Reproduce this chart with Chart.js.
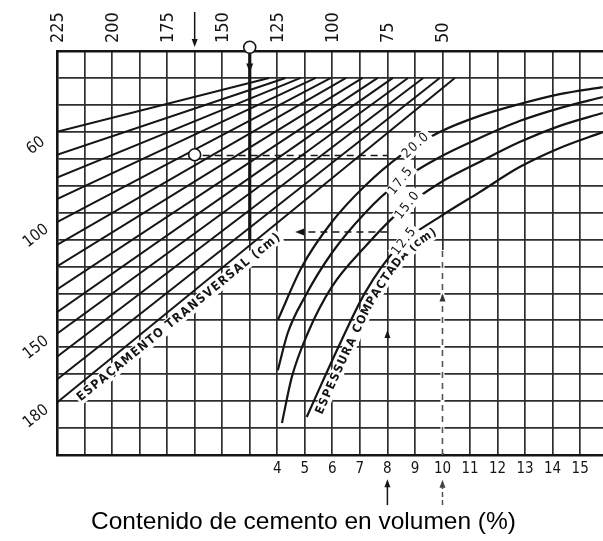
<!DOCTYPE html>
<html>
<head>
<meta charset="utf-8">
<script src="https://cdn.jsdelivr.net/npm/chart.js@4.4.1/dist/chart.umd.min.js"></script>
<style>
  html, body { margin: 0; padding: 0; background: #fff; }
  #wrap { width: 603px; height: 541px; }
</style>
</head>
<body>
<div id="wrap"><canvas id="c" width="603" height="541"></canvas></div>
<script>
// Lower scale: cement content by volume (%)
const cementTicks = [4, 5, 6, 7, 8, 9, 10, 11, 12, 13, 14, 15];
// Upper scale (reversed), labelled every second grid column
const upperTicks = [225, 200, 175, 150, 125, 100, 75, 50];

// Transverse spacing family (cm): row where each line leaves the left border,
// and the cement column where it meets grid row 1
const spacingCm   = [60, 70, 80, 90, 100, 110, 120, 130, 140, 150, 160, 170, 180];
const spacingRow0 = [3.0, 3.85, 4.7, 5.5, 6.35, 7.2, 8.0, 8.85, 9.7, 10.5, 11.35, 12.2, 13.05];
const spacingEndX = [3.7, 4.3, 4.85, 5.4, 5.95, 6.5, 7.1, 7.65, 8.2, 8.75, 9.3, 9.9, 10.45];
const spacingLabelled = [60, 100, 150, 180];

// Compacted thickness curves (cm): cement % against grid row
const thicknessNames = ['20.0', '17.5', '15.0', '12.5'];
const t200x = [4.02, 4.89, 5.98, 7.18, 8.45, 9.9, 11.35, 12.8, 14.26, 15.82];
const t200y = [9.99, 8.02, 6.35, 5.01, 3.9, 3.01, 2.41, 1.97, 1.6, 1.34];
const t175x = [4.02, 4.38, 5.0, 5.98, 7.18, 8.38, 9.9, 11.35, 12.8, 14.26, 15.82];
const t175y = [11.85, 10.47, 9.13, 7.5, 6.02, 4.9, 3.94, 3.23, 2.6, 2.12, 1.71];
const t150x = [4.17, 4.53, 5.11, 5.98, 7.18, 8.38, 9.9, 11.35, 12.8, 14.26, 15.82];
const t150y = [13.81, 12.1, 10.47, 8.76, 7.28, 6.02, 4.9, 4.12, 3.38, 2.78, 2.3];
const t125x = [5.07, 5.62, 6.34, 7.18, 8.38, 9.9, 11.35, 12.8, 14.26, 15.82];
const t125y = [13.59, 12.33, 10.73, 8.99, 7.28, 6.16, 5.24, 4.31, 3.6, 3.01];
const thicknessX = [t200x, t175x, t150x, t125x];
const thicknessY = [t200y, t175y, t150y, t125y];

// Worked examples read on the chart
const exampleCement = [8, 10];      // entries on the lower scale
const exampleTopCols = [1, 3];      // exits towards the upper scale
const exampleRows = [3.88, 6.72];   // horizontal transfer rows

const X_MIN = -4, X_MAX = 15.83;
const INK = '#151515';

const datasets = [];
spacingCm.forEach((cm, i) => {
  datasets.push({
    label: 'Espaçamento ' + cm,
    data: [{ x: X_MIN, y: spacingRow0[i] }, { x: spacingEndX[i], y: 1 }],
    borderColor: INK, borderWidth: 2, pointRadius: 0, showLine: true, tension: 0
  });
});
thicknessNames.forEach((name, i) => {
  datasets.push({
    label: 'Espessura ' + name,
    data: thicknessX[i].map((x, k) => ({ x, y: thicknessY[i][k] })),
    borderColor: INK, borderWidth: 2.2, pointRadius: 0, showLine: true,
    cubicInterpolationMode: 'monotone'
  });
});

// ---- drawing helpers ----
function arrowHead(ctx, x, y, ang, len = 8, half = 3) {
  ctx.save();
  ctx.translate(x, y);
  ctx.rotate(ang);
  ctx.beginPath();
  ctx.moveTo(0, 0);
  ctx.lineTo(-len, -half);
  ctx.lineTo(-len, half);
  ctx.closePath();
  ctx.fill();
  ctx.restore();
}
function seg(ctx, x1, y1, x2, y2) {
  ctx.beginPath(); ctx.moveTo(x1, y1); ctx.lineTo(x2, y2); ctx.stroke();
}
function catmull(pts, steps = 12) {
  const out = [];
  for (let i = 0; i < pts.length - 1; i++) {
    const p0 = pts[Math.max(i - 1, 0)], p1 = pts[i], p2 = pts[i + 1], p3 = pts[Math.min(i + 2, pts.length - 1)];
    for (let k = 0; k < steps; k++) {
      const t = k / steps, t2 = t * t, t3 = t2 * t;
      const f = (a, b, c, d) => 0.5 * (2 * b + (-a + c) * t + (2 * a - 5 * b + 4 * c - d) * t2 + (-a + 3 * b - 3 * c + d) * t3);
      out.push([f(p0[0], p1[0], p2[0], p3[0]), f(p0[1], p1[1], p2[1], p3[1])]);
    }
  }
  out.push(pts[pts.length - 1]);
  return out;
}
function walker(poly) {
  const cum = [0];
  for (let i = 1; i < poly.length; i++)
    cum.push(cum[i - 1] + Math.hypot(poly[i][0] - poly[i - 1][0], poly[i][1] - poly[i - 1][1]));
  const at = s => {
    s = Math.max(0, Math.min(s, cum[cum.length - 1]));
    let i = 1;
    while (i < cum.length - 1 && cum[i] < s) i++;
    const L = (cum[i] - cum[i - 1]) || 1, t = (s - cum[i - 1]) / L;
    return [poly[i - 1][0] + (poly[i][0] - poly[i - 1][0]) * t, poly[i - 1][1] + (poly[i][1] - poly[i - 1][1]) * t];
  };
  return { at, total: cum[cum.length - 1] };
}
// Lays text along a pixel path, on the lower side, with a white halo
function textAlong(ctx, poly, text, s0, len, offset, font) {
  const w = walker(poly);
  ctx.font = font;
  const chars = [...text];
  const widths = chars.map(ch => ctx.measureText(ch).width);
  const natural = widths.reduce((a, b) => a + b, 0);
  const gap = (len - natural) / (chars.length - 1);
  const size = parseFloat(font.match(/(\d+(\.\d+)?)px/)[1]);
  let s = s0;
  const items = [];
  chars.forEach((ch, i) => {
    const c = s + widths[i] / 2;
    const a = w.at(c - 6), b = w.at(c + 6);
    const ang = Math.atan2(b[1] - a[1], b[0] - a[0]);
    const p = w.at(c);
    items.push({ ch, x: p[0] - Math.sin(ang) * offset, y: p[1] + Math.cos(ang) * offset, ang, w: widths[i] });
    s += widths[i] + gap;
  });
  ctx.fillStyle = '#fff';
  items.forEach(it => {
    ctx.save(); ctx.translate(it.x, it.y); ctx.rotate(it.ang);
    ctx.fillRect(-it.w / 2 - gap / 2 - 1, -size * 0.55, it.w + gap + 2, size * 1.1);
    ctx.restore();
  });
  ctx.fillStyle = INK;
  ctx.textAlign = 'center';
  ctx.textBaseline = 'middle';
  items.forEach(it => {
    ctx.save(); ctx.translate(it.x, it.y); ctx.rotate(it.ang);
    ctx.fillText(it.ch, 0, 0);
    ctx.restore();
  });
}

const nomogram = {
  id: 'nomogram',
  afterDatasetsDraw(chart) {
    const { ctx, chartArea } = chart;
    const xs = chart.scales.x, ys = chart.scales.y, top = chart.scales.x2;
    const X = v => xs.getPixelForValue(v), Y = v => ys.getPixelForValue(v);
    ctx.save();
    ctx.strokeStyle = INK; ctx.fillStyle = INK; ctx.lineCap = 'butt';

    // --- worked example guides ---
    const [c8, c10] = exampleCement;
    const [colA, colB] = exampleTopCols;
    const [rowA, rowB] = exampleRows;

    // entry arrow above the upper scale
    ctx.lineWidth = 1.5;
    seg(ctx, X(colA), Y(-1.45), X(colA), Y(-0.3));
    arrowHead(ctx, X(colA), Y(-0.15), Math.PI / 2);
    // bold reading line with its marker on the upper border
    ctx.lineWidth = 3.2;
    seg(ctx, X(colB), Y(0), X(colB), Y(7.02));
    arrowHead(ctx, X(colB), Y(0.8), Math.PI / 2, 9, 3.5);

    // dashed transfer lines
    ctx.lineWidth = 1.6;
    ctx.setLineDash([7, 5]);
    seg(ctx, X(colA) + 8, Y(rowA), X(c8), Y(rowA));
    seg(ctx, X(c8), Y(rowB), X(4.8), Y(rowB));
    ctx.setLineDash([]);
    arrowHead(ctx, X(4.65), Y(rowB), Math.PI, 9, 3.5);

    // 8 % entry: arrow on the grid column
    arrowHead(ctx, X(c8), Y(10.36), -Math.PI / 2, 8, 3);
    // 10 % entry: dashed column
    ctx.strokeStyle = '#fff'; ctx.lineWidth = 4;
    seg(ctx, X(c10), Y(15) - 2, X(c10), Y(7.39));
    ctx.strokeStyle = '#555'; ctx.lineWidth = 1.6; ctx.setLineDash([6, 5]);
    seg(ctx, X(c10), Y(15), X(c10), Y(7.39));
    ctx.setLineDash([]);
    ctx.fillStyle = '#333';
    arrowHead(ctx, X(c10), Y(9.0), -Math.PI / 2, 8, 3);

    // arrows below the lower scale
    ctx.fillStyle = INK; ctx.strokeStyle = INK; ctx.lineWidth = 1.5;
    seg(ctx, X(c8), Y(16.86), X(c8), Y(16.0));
    arrowHead(ctx, X(c8), Y(15.9), -Math.PI / 2);
    ctx.strokeStyle = '#555'; ctx.setLineDash([5, 3]);
    seg(ctx, X(c10), Y(16.86), X(c10), Y(16.0));
    ctx.setLineDash([]);
    ctx.fillStyle = '#444';
    arrowHead(ctx, X(c10), Y(15.92), -Math.PI / 2);

    // open circle markers
    ctx.strokeStyle = INK; ctx.lineWidth = 1.6; ctx.fillStyle = '#fff';
    [[X(colA), Y(rowA - 0.03)], [X(colB), Y(-0.14)]].forEach(([cx, cy]) => {
      ctx.beginPath(); ctx.arc(cx, cy, 6, 0, Math.PI * 2); ctx.fill(); ctx.stroke();
    });

    // --- labels along the families ---
    const lastSpacing = spacingCm.length - 1;
    textAlong(ctx,
      [[X(X_MIN), Y(spacingRow0[lastSpacing])], [X(spacingEndX[lastSpacing]), Y(1)]],
      'ESPAÇAMENTO TRANSVERSAL (cm)', 19, 258, 11,
      'bold 12.5px "DejaVu Sans Condensed", "Liberation Sans Narrow", sans-serif');

    const t125 = catmull(t125x.map((x, k) => [X(x), Y(t125y[k])]));
    textAlong(ctx, t125, 'ESPESSURA COMPACTADA (cm)', 8, 226, 10,
      'bold 12px "DejaVu Sans Condensed", "Liberation Sans Narrow", sans-serif');

    // thickness values written on their curves
    const labelCols = [9.1, 8.52, 8.75, 8.6];
    const labelAngles = [-42, -52, -52, -52];
    ctx.font = '13px "DejaVu Sans Condensed", "Liberation Sans Narrow", sans-serif';
    ctx.textAlign = 'center'; ctx.textBaseline = 'middle';
    thicknessNames.forEach((name, i) => {
      const poly = catmull(thicknessX[i].map((x, k) => [X(x), Y(thicknessY[i][k])]));
      const px = X(labelCols[i]);
      let best = poly[0];
      poly.forEach(p => { if (Math.abs(p[0] - px) < Math.abs(best[0] - px)) best = p; });
      ctx.save();
      ctx.translate(best[0], best[1]);
      ctx.rotate(labelAngles[i] * Math.PI / 180);
      if ('letterSpacing' in ctx) ctx.letterSpacing = '1.5px';
      const tw = ctx.measureText(name).width;
      ctx.fillStyle = '#fff';
      ctx.fillRect(-tw / 2 - 2, -7, tw + 4, 14);
      ctx.fillStyle = INK;
      ctx.fillText(name, 0, 0);
      ctx.restore();
    });
    if ('letterSpacing' in ctx) ctx.letterSpacing = '0px';
    ctx.restore();
  },
  afterDraw(chart) {
    const { ctx, chartArea } = chart;
    const xs = chart.scales.x, ys = chart.scales.y, top = chart.scales.x2;
    const X = v => xs.getPixelForValue(v), Y = v => ys.getPixelForValue(v);
    ctx.save();
    ctx.fillStyle = INK;

    // upper scale, written upwards
    ctx.font = '18px "Liberation Sans Narrow", "DejaVu Sans Condensed", sans-serif';
    ctx.textAlign = 'left'; ctx.textBaseline = 'middle';
    upperTicks.forEach(v => {
      ctx.save();
      ctx.translate(top.getPixelForValue(v) + 1, chartArea.top - 8);
      ctx.rotate(-Math.PI / 2);
      ctx.fillText(String(v), 0, 0);
      ctx.restore();
    });

    // lower scale
    ctx.font = '15px "Liberation Sans Narrow", "DejaVu Sans Condensed", sans-serif';
    ctx.textAlign = 'center'; ctx.textBaseline = 'middle';
    cementTicks.forEach(v => ctx.fillText(String(v), X(v), Y(15) + 14));

    // spacing values at the left border
    ctx.font = '16px "Liberation Sans Narrow", "DejaVu Sans Condensed", sans-serif';
    spacingLabelled.forEach(cm => {
      const i = spacingCm.indexOf(cm);
      ctx.save();
      ctx.translate(X(X_MIN) - 21, Y(spacingRow0[i]) + 14);
      ctx.rotate(-38 * Math.PI / 180);
      ctx.fillText(String(cm), 0, 0);
      ctx.restore();
    });

    // axis title
    ctx.font = '24.5px "Liberation Sans", Arial, sans-serif';
    ctx.fillStyle = '#000';
    ctx.fillText('Contenido de cemento en volumen (%)', chart.width / 2 + 2, 522);
    ctx.restore();
  }
};

Chart.defaults.font.family = '"Liberation Sans", Arial, sans-serif';

new Chart(document.getElementById('c'), {
  type: 'scatter',
  data: { datasets },
  options: {
    responsive: false,
    animation: false,
    devicePixelRatio: 1,
    layout: { padding: 0 },
    plugins: { legend: { display: false }, tooltip: { enabled: false } },
    scales: {
      x: {
        type: 'linear', position: 'bottom', min: X_MIN, max: X_MAX,
        ticks: { display: false, stepSize: 1, includeBounds: false },
        grid: { color: '#2e2e2e', lineWidth: 1.7, drawTicks: false },
        border: { display: true, color: INK, width: 2.6 },
        afterFit: s => { s.height = 86; }
      },
      x2: {
        type: 'linear', position: 'top', reverse: true,
        min: 225 - (X_MAX - X_MIN) * 12.5, max: 225,
        ticks: { display: false },
        grid: { display: false, drawTicks: false },
        border: { display: true, color: INK, width: 2.6 },
        afterFit: s => { s.height = 51; }
      },
      y: {
        type: 'linear', position: 'left', reverse: true, min: 0, max: 15,
        ticks: { display: false, stepSize: 1 },
        grid: { color: '#2e2e2e', lineWidth: 1.7, drawTicks: false },
        border: { display: true, color: INK, width: 2.6 },
        afterFit: s => { s.width = 57; }
      }
    }
  },
  plugins: [nomogram]
});
</script>
</body>
</html>
